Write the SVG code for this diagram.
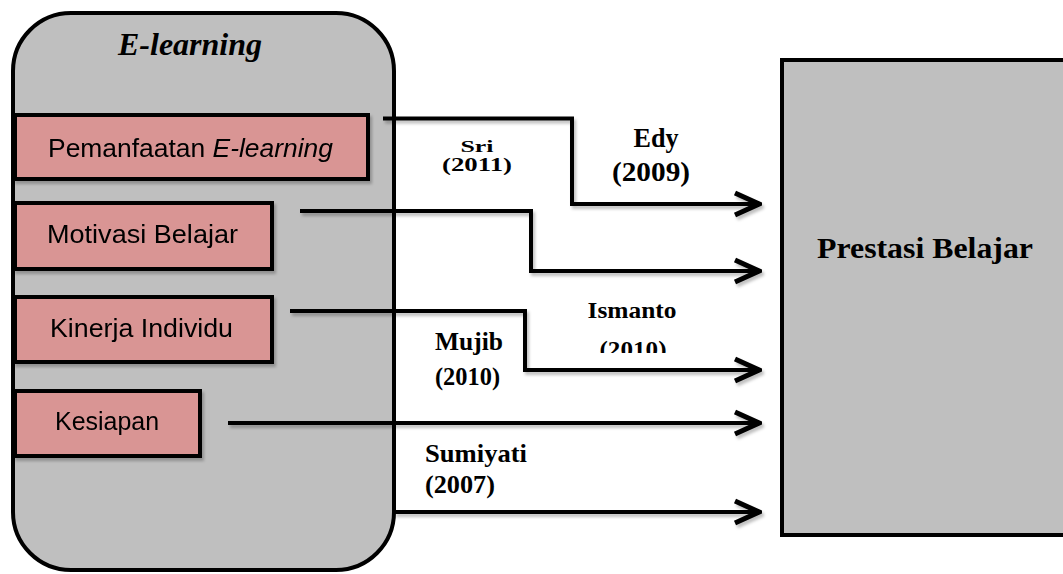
<svg xmlns="http://www.w3.org/2000/svg" width="1063" height="574" viewBox="0 0 1063 574">
<style>
.box{fill:#bfbfbf;stroke:#000;stroke-width:4}
.pink{fill:#d99594;stroke:#000;stroke-width:4}
.lbl{font-family:"Liberation Sans",Arial,sans-serif;font-size:25px;fill:#000}
.ser{font-family:"Liberation Serif","Times New Roman",serif;font-weight:bold;fill:#000}
.con{fill:none;stroke:#000;stroke-width:4;stroke-linejoin:miter}
</style>
<defs>
<filter id="sh" x="-10%" y="-10%" width="130%" height="140%">
<feDropShadow dx="2" dy="3" stdDeviation="1.5" flood-color="#000" flood-opacity="0.25"/>
</filter>
<marker id="arr" viewBox="0 0 30 28" refX="27" refY="14" markerWidth="30" markerHeight="28" markerUnits="userSpaceOnUse" orient="auto">
<path d="M3,3 L27,14 L3,25" fill="none" stroke="#000" stroke-width="5"/>
</marker>
<clipPath id="clipI"><rect x="580" y="320" width="120" height="33"/></clipPath>
</defs>

<g id="elearning">
<rect class="box" x="13" y="13" width="381" height="557" rx="58" ry="58"/>
<text class="ser" x="190" y="55" font-size="31" font-style="italic" text-anchor="middle" textLength="144" lengthAdjust="spacingAndGlyphs">E-learning</text>
</g>

<g id="pemanfaatan" filter="url(#sh)">
<rect class="pink" x="15" y="115" width="353" height="64"/>
<text class="lbl" x="48" y="157" textLength="285" lengthAdjust="spacingAndGlyphs">Pemanfaatan <tspan font-style="italic">E-learning</tspan></text>
</g>
<g id="motivasi" filter="url(#sh)">
<rect class="pink" x="15" y="203" width="257" height="66"/>
<text class="lbl" x="47" y="243" textLength="191" lengthAdjust="spacingAndGlyphs">Motivasi Belajar</text>
</g>
<g id="kinerja" filter="url(#sh)">
<rect class="pink" x="15" y="297" width="257" height="65"/>
<text class="lbl" x="50" y="337" textLength="183" lengthAdjust="spacingAndGlyphs">Kinerja Individu</text>
</g>
<g id="kesiapan" filter="url(#sh)">
<rect class="pink" x="15" y="391" width="185" height="65"/>
<text class="lbl" x="55" y="430" textLength="104" lengthAdjust="spacingAndGlyphs">Kesiapan</text>
</g>

<g id="prestasi">
<rect class="box" x="782" y="60" width="300" height="475"/>
<text class="ser" x="925" y="258" font-size="29" text-anchor="middle" textLength="216" lengthAdjust="spacingAndGlyphs">Prestasi Belajar</text>
</g>

<g id="connectors" filter="url(#sh)">
<path class="con" d="M383,118.5 H572 V204 H759" marker-end="url(#arr)"/>
<path class="con" d="M300,211 H531 V271 H759" marker-end="url(#arr)"/>
<path class="con" d="M290,311 H525 V370 H759" marker-end="url(#arr)"/>
<path class="con" d="M228,423 H759" marker-end="url(#arr)"/>
<path class="con" d="M394,512 H759" marker-end="url(#arr)"/>
</g>

<g id="labels">
<text class="ser" x="477" y="152" font-size="17" text-anchor="middle" textLength="33" lengthAdjust="spacingAndGlyphs">Sri</text>
<text class="ser" x="477" y="171" font-size="18" text-anchor="middle" textLength="70" lengthAdjust="spacingAndGlyphs">(2011)</text>
<text class="ser" x="656" y="147" font-size="27" text-anchor="middle" textLength="45" lengthAdjust="spacingAndGlyphs">Edy</text>
<text class="ser" x="651" y="181" font-size="27" text-anchor="middle" textLength="78" lengthAdjust="spacingAndGlyphs">(2009)</text>
<text class="ser" x="632" y="318" font-size="24" text-anchor="middle" textLength="89" lengthAdjust="spacingAndGlyphs">Ismanto</text>
<text class="ser" x="633" y="357" font-size="24" text-anchor="middle" textLength="67" lengthAdjust="spacingAndGlyphs" clip-path="url(#clipI)">(2010)</text>
<text class="ser" x="435" y="350" font-size="25" textLength="68" lengthAdjust="spacingAndGlyphs">Mujib</text>
<text class="ser" x="435" y="385" font-size="25" textLength="65" lengthAdjust="spacingAndGlyphs">(2010)</text>
<text class="ser" x="425" y="462" font-size="25" textLength="102" lengthAdjust="spacingAndGlyphs">Sumiyati</text>
<text class="ser" x="425" y="493" font-size="25" textLength="70" lengthAdjust="spacingAndGlyphs">(2007)</text>
</g>
</svg>
